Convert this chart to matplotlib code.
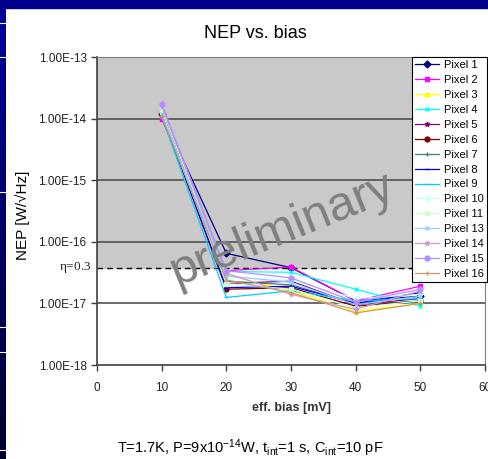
import numpy as np
import matplotlib
matplotlib.use("Agg")
import matplotlib.pyplot as plt
from matplotlib.patches import Rectangle
from matplotlib.ticker import FixedLocator, FuncFormatter, NullLocator

plt.rcParams['font.family'] = ['Liberation Sans', 'DejaVu Sans']
plt.rcParams['mathtext.default'] = 'regular'

# Data
bias = [10, 20, 30, 40, 50]  # eff. bias (mV)
pixel_names = ['Pixel 1', 'Pixel 2', 'Pixel 3', 'Pixel 4', 'Pixel 5', 'Pixel 6',
               'Pixel 7', 'Pixel 8', 'Pixel 9', 'Pixel 10', 'Pixel 11',
               'Pixel 13', 'Pixel 14', 'Pixel 15', 'Pixel 16']
nep_p1 = [1.20e-14, 6.5e-17, 3.8e-17, 1.10e-17, 1.3e-17]
nep_p2 = [1.00e-14, 3.4e-17, 3.9e-17, 1.10e-17, 1.9e-17]
nep_p3 = [1.30e-14, 2.9e-17, 1.6e-17, 7.5e-18, 1.0e-17]
nep_p4 = [1.10e-14, 3.3e-17, 3.2e-17, 1.70e-17, 9.0e-18]
nep_p5 = [1.40e-14, 2.1e-17, 2.3e-17, 9.5e-18, 1.2e-17]
nep_p6 = [1.20e-14, 1.7e-17, 1.8e-17, 9.0e-18, 1.1e-17]
nep_p7 = [1.30e-14, 2.3e-17, 2.0e-17, 1.00e-17, 1.3e-17]
nep_p8 = [1.20e-14, 1.8e-17, 1.9e-17, 1.00e-17, 1.5e-17]
nep_p9 = [1.10e-14, 1.25e-17, 1.6e-17, 1.10e-17, 1.2e-17]
nep_p10 = [1.50e-14, 2.6e-17, 2.4e-17, 1.20e-17, 1.4e-17]
nep_p11 = [1.30e-14, 2.1e-17, 1.7e-17, 8.5e-18, 1.1e-17]
nep_p13 = [1.20e-14, 2.8e-17, 2.2e-17, 9.5e-18, 1.3e-17]
nep_p14 = [1.60e-14, 3.1e-17, 1.4e-17, 8.0e-18, 1.6e-17]
nep_p15 = [1.75e-14, 3.4e-17, 2.6e-17, 1.05e-17, 1.7e-17]
nep_p16 = [1.10e-14, 2.4e-17, 1.5e-17, 7.0e-18, 1.0e-17]
all_nep = [nep_p1, nep_p2, nep_p3, nep_p4, nep_p5, nep_p6, nep_p7, nep_p8,
           nep_p9, nep_p10, nep_p11, nep_p13, nep_p14, nep_p15, nep_p16]
eta_level = 3.8e-17  # eta=0.3 limit
y_ticks = [1e-18, 1e-17, 1e-16, 1e-15, 1e-14, 1e-13]
x_ticks = [0, 10, 20, 30, 40, 50, 60]

# Excel-like series styles
colors = ['#000080', '#ff00ff', '#ffff00', '#00ffff', '#800080', '#800000',
          '#3f8080', '#0000ff', '#00ccff', '#ccffff', '#ccffcc',
          '#99ccff', '#cc99cc', '#b38fff', '#cc9966']
markers = ['D', 's', '^', 'x', '*', 'o', '+', '_', '_', 'd', 's',
           'x', '*', 'o', '+']

fig = plt.figure(figsize=(4.89, 4.59), dpi=100)
fig.patch.set_facecolor('white')

# slide decoration: top bar and left strip
fig.patches.append(Rectangle((0, 1 - 8 / 459), 1, 8 / 459, transform=fig.transFigure,
                             color='#00008c', zorder=0))
strip = fig.add_axes([0, 0, 6 / 489, 1])
strip.imshow(np.linspace(0, 1, 100).reshape(-1, 1), aspect='auto',
             cmap=matplotlib.colors.LinearSegmentedColormap.from_list('s', ['#00009a', '#000030']),
             extent=[0, 1, 0, 1])
for yy in [23, 57, 192, 327, 352, 450]:
    strip.axhline(1 - yy / 459, color='white', lw=0.8)
strip.axis('off')

ax = fig.add_axes([97 / 489, 94 / 459, 388 / 489, 308 / 459])
ax.set_yscale('log')
ax.set_xlim(0, 60)
ax.set_ylim(1e-18, 1e-13)
ax.set_facecolor('white')

# gray region above eta line, grid lines, dashed eta line
ax.axhspan(eta_level, 1e-13, color='#c9c9c9', zorder=0)
for v in y_ticks[1:-1]:
    ax.axhline(v, color='#505050', lw=1.2, zorder=1)
ax.axhline(eta_level, color='black', lw=1.0, ls=(0, (4, 3)), zorder=1)

for name, vals, c, m in zip(pixel_names, all_nep, colors, markers):
    ax.plot(bias, vals, color=c, marker=m, ms=3.5, mew=1, lw=0.9, label=name, zorder=3)

ax.yaxis.set_major_locator(FixedLocator(y_ticks))
ax.yaxis.set_minor_locator(NullLocator())
ax.yaxis.set_major_formatter(FuncFormatter(lambda v, p: f'{v:.2E}'))
ax.xaxis.set_major_locator(FixedLocator(x_ticks))
ax.tick_params(axis='both', direction='out', length=4, width=1, color='#404040',
               labelsize=8.5, labelcolor='#222222')
ax.tick_params(axis='x', pad=8)
for s in ['left', 'bottom']:
    ax.spines[s].set_color('#404040')
    ax.spines[s].set_linewidth(1.2)
for s in ['top', 'right']:
    ax.spines[s].set_color('#808080')
    ax.spines[s].set_linewidth(0.8)

ax.text(-0.9, eta_level, r'$\eta$=0.3', transform=ax.transData, ha='right', va='center',
        fontsize=9.5, family=['Liberation Serif', 'DejaVu Serif'], color='#222222')

ax.set_xlabel('eff. bias [mV]', fontsize=9, fontweight='bold', color='#333333', labelpad=6)
fig.text(22 / 489, 1 - 215 / 459, 'NEP [W/\u221aHz]', rotation=90, ha='center', va='center',
         fontsize=11)
fig.text(255 / 489, 1 - 33 / 459, 'NEP vs. bias', ha='center', va='center', fontsize=13)
fig.text(250 / 489, 1 - 448 / 459,
         r'T=1.7K, P=9x10$^{-14}$W, t$_{int}$=1 s, C$_{int}$=10 pF',
         ha='center', va='center', fontsize=10.5)

leg = ax.legend(loc='upper right', bbox_to_anchor=(487 / 489, 1 - 57 / 459),
                bbox_transform=fig.transFigure, borderaxespad=0, fontsize=8,
                handlelength=2.2, handletextpad=0.4, labelspacing=0.44,
                borderpad=0.3, fancybox=False, framealpha=1, edgecolor='black')
leg.get_frame().set_linewidth(0.8)
leg.set_zorder(5)

fig.text(283 / 489, 1 - 230 / 459, 'preliminary', rotation=22, ha='center', va='center',
         fontsize=35, color='#7f7f7f', zorder=10)

fig.savefig('out.png', dpi=100)
